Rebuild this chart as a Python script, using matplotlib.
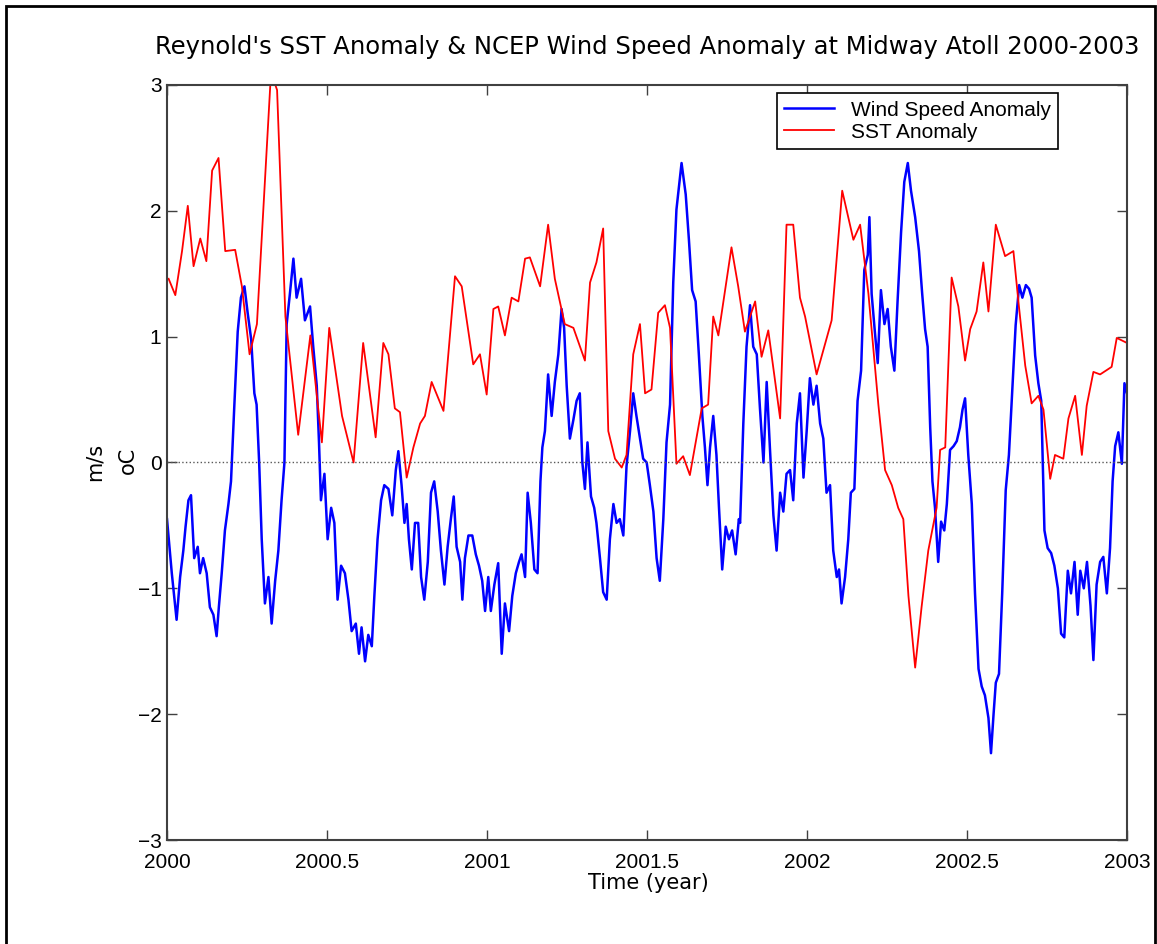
import matplotlib
matplotlib.use("Agg")
import matplotlib.pyplot as plt
from matplotlib.patches import Rectangle

# Reynolds SST anomaly (oC), weekly-ish samples
sst_year = [2000.005, 2000.026, 2000.047, 2000.065, 2000.083, 2000.104, 2000.123, 2000.141,
            2000.161, 2000.182, 2000.213, 2000.234, 2000.258, 2000.281, 2000.307, 2000.325,
            2000.344, 2000.370, 2000.410, 2000.448, 2000.484, 2000.507, 2000.547, 2000.583,
            2000.613, 2000.652, 2000.676, 2000.692, 2000.712, 2000.728, 2000.749, 2000.770,
            2000.791, 2000.806, 2000.827, 2000.864, 2000.900, 2000.921, 2000.957, 2000.978,
            2000.999, 2001.020, 2001.035, 2001.056, 2001.077, 2001.098, 2001.119, 2001.134,
            2001.166, 2001.191, 2001.212, 2001.243, 2001.270, 2001.306, 2001.322, 2001.342,
            2001.363, 2001.379, 2001.400, 2001.421, 2001.436, 2001.457, 2001.478, 2001.494,
            2001.514, 2001.535, 2001.556, 2001.572, 2001.592, 2001.613, 2001.634, 2001.671,
            2001.691, 2001.707, 2001.723, 2001.764, 2001.785, 2001.806, 2001.838, 2001.858,
            2001.879, 2001.916, 2001.936, 2001.957, 2001.978, 2001.994, 2002.030, 2002.077,
            2002.110, 2002.145, 2002.166, 2002.192, 2002.223, 2002.244, 2002.265, 2002.285,
            2002.301, 2002.317, 2002.338, 2002.358, 2002.379, 2002.405, 2002.416, 2002.432,
            2002.452, 2002.473, 2002.494, 2002.510, 2002.530, 2002.551, 2002.567, 2002.590,
            2002.619, 2002.645, 2002.661, 2002.682, 2002.702, 2002.723, 2002.739, 2002.760,
            2002.775, 2002.801, 2002.817, 2002.838, 2002.859, 2002.874, 2002.895, 2002.916,
            2002.952, 2002.968, 2003.000]
sst_val = [1.46, 1.33, 1.68, 2.04, 1.56, 1.78, 1.60, 2.32,
           2.42, 1.68, 1.69, 1.40, 0.86, 1.10, 2.29, 3.10,
           2.96, 1.16, 0.22, 1.01, 0.16, 1.07, 0.37, 0.00,
           0.95, 0.20, 0.95, 0.86, 0.43, 0.40, -0.12, 0.12,
           0.31, 0.37, 0.64, 0.41, 1.48, 1.40, 0.78, 0.86,
           0.54, 1.22, 1.24, 1.01, 1.31, 1.28, 1.62, 1.63,
           1.40, 1.89, 1.46, 1.10, 1.07, 0.81, 1.43, 1.59,
           1.86, 0.25, 0.03, -0.04, 0.06, 0.86, 1.10, 0.55,
           0.58, 1.19, 1.25, 1.07, -0.01, 0.05, -0.10, 0.43,
           0.46, 1.16, 1.01, 1.71, 1.40, 1.04, 1.28, 0.84,
           1.05, 0.35, 1.89, 1.89, 1.31, 1.16, 0.70, 1.13,
           2.16, 1.77, 1.89, 1.34, 0.46, -0.06, -0.18, -0.36,
           -0.45, -1.06, -1.63, -1.15, -0.70, -0.36, 0.10, 0.12,
           1.47, 1.24, 0.81, 1.06, 1.20, 1.59, 1.20, 1.89,
           1.64, 1.68, 1.27, 0.77, 0.47, 0.53, 0.42, -0.13,
           0.06, 0.03, 0.35, 0.53, 0.06, 0.45, 0.72, 0.70,
           0.76, 0.99, 0.95]

# NCEP wind speed anomaly (m/s)
wind_year = [2000.000, 2000.015, 2000.030, 2000.041, 2000.051, 2000.058, 2000.067, 2000.075,
             2000.085, 2000.096, 2000.103, 2000.113, 2000.124, 2000.134, 2000.145, 2000.155,
             2000.162, 2000.171, 2000.181, 2000.192, 2000.200, 2000.210, 2000.221, 2000.231,
             2000.242, 2000.252, 2000.263, 2000.273, 2000.280, 2000.288, 2000.296, 2000.306,
             2000.317, 2000.327, 2000.338, 2000.348, 2000.358, 2000.367, 2000.374, 2000.384,
             2000.395, 2000.405, 2000.419, 2000.431, 2000.447, 2000.457, 2000.468, 2000.475,
             2000.481, 2000.492, 2000.502, 2000.513, 2000.523, 2000.533, 2000.544, 2000.556,
             2000.567, 2000.577, 2000.590, 2000.600, 2000.608, 2000.619, 2000.629, 2000.640,
             2000.648, 2000.658, 2000.669, 2000.679, 2000.692, 2000.704, 2000.715, 2000.723,
             2000.733, 2000.742, 2000.749, 2000.756, 2000.765, 2000.775, 2000.785, 2000.794,
             2000.804, 2000.815, 2000.825, 2000.835, 2000.846, 2000.856, 2000.867, 2000.877,
             2000.887, 2000.896, 2000.905, 2000.916, 2000.923, 2000.931, 2000.942, 2000.954,
             2000.965, 2000.975, 2000.985, 2000.994, 2001.004, 2001.012, 2001.023, 2001.035,
             2001.046, 2001.056, 2001.069, 2001.079, 2001.090, 2001.100, 2001.108, 2001.119,
             2001.127, 2001.137, 2001.148, 2001.158, 2001.167, 2001.173, 2001.181, 2001.191,
             2001.202, 2001.212, 2001.223, 2001.233, 2001.241, 2001.249, 2001.259, 2001.270,
             2001.280, 2001.290, 2001.298, 2001.306, 2001.314, 2001.325, 2001.335, 2001.342,
             2001.353, 2001.363, 2001.374, 2001.384, 2001.395, 2001.405, 2001.415, 2001.426,
             2001.436, 2001.447, 2001.457, 2001.467, 2001.478, 2001.488, 2001.499, 2001.509,
             2001.520, 2001.530, 2001.540, 2001.551, 2001.561, 2001.572, 2001.582, 2001.592,
             2001.608, 2001.621, 2001.631, 2001.641, 2001.652, 2001.662, 2001.673, 2001.681,
             2001.689, 2001.697, 2001.707, 2001.717, 2001.725, 2001.735, 2001.746, 2001.756,
             2001.766, 2001.777, 2001.787, 2001.791, 2001.801, 2001.811, 2001.822, 2001.832,
             2001.843, 2001.853, 2001.864, 2001.874, 2001.884, 2001.895, 2001.905, 2001.916,
             2001.926, 2001.936, 2001.947, 2001.957, 2001.968, 2001.978, 2001.989, 2001.999,
             2002.009, 2002.020, 2002.030, 2002.041, 2002.051, 2002.061, 2002.072, 2002.082,
             2002.093, 2002.100, 2002.108, 2002.119, 2002.129, 2002.137, 2002.148, 2002.158,
             2002.169, 2002.179, 2002.190, 2002.195, 2002.202, 2002.212, 2002.221, 2002.231,
             2002.242, 2002.252, 2002.262, 2002.273, 2002.283, 2002.294, 2002.304, 2002.315,
             2002.325, 2002.338, 2002.350, 2002.360, 2002.369, 2002.377, 2002.385, 2002.392,
             2002.400, 2002.410, 2002.419, 2002.429, 2002.437, 2002.447, 2002.458, 2002.468,
             2002.478, 2002.486, 2002.494, 2002.504, 2002.515, 2002.525, 2002.536, 2002.546,
             2002.556, 2002.567, 2002.575, 2002.583, 2002.590, 2002.600, 2002.610, 2002.621,
             2002.631, 2002.642, 2002.652, 2002.663, 2002.673, 2002.684, 2002.694, 2002.702,
             2002.713, 2002.723, 2002.732, 2002.742, 2002.752, 2002.763, 2002.773, 2002.784,
             2002.794, 2002.804, 2002.815, 2002.825, 2002.836, 2002.846, 2002.854, 2002.865,
             2002.875, 2002.886, 2002.895, 2002.905, 2002.916, 2002.926, 2002.937, 2002.947,
             2002.955, 2002.963, 2002.973, 2002.984, 2002.992, 2003.000]
wind_val = [-0.45, -0.88, -1.25, -0.91, -0.70, -0.51, -0.30, -0.26,
            -0.76, -0.67, -0.88, -0.76, -0.88, -1.15, -1.21, -1.38,
            -1.15, -0.88, -0.54, -0.33, -0.15, 0.43, 1.04, 1.31,
            1.40, 1.19, 0.98, 0.55, 0.46, 0.00, -0.61, -1.12,
            -0.91, -1.28, -0.94, -0.70, -0.30, 0.00, 1.10, 1.34,
            1.62, 1.31, 1.46, 1.13, 1.24, 0.92, 0.61, 0.16,
            -0.30, -0.09, -0.61, -0.36, -0.48, -1.09, -0.82, -0.88,
            -1.09, -1.34, -1.28, -1.52, -1.31, -1.58, -1.37, -1.46,
            -1.06, -0.61, -0.30, -0.18, -0.21, -0.42, -0.06, 0.09,
            -0.18, -0.48, -0.33, -0.61, -0.85, -0.48, -0.48, -0.91,
            -1.09, -0.79, -0.24, -0.15, -0.39, -0.70, -0.97, -0.67,
            -0.45, -0.27, -0.67, -0.79, -1.09, -0.76, -0.58, -0.58,
            -0.73, -0.82, -0.94, -1.18, -0.91, -1.18, -0.97, -0.80,
            -1.52, -1.12, -1.34, -1.06, -0.88, -0.79, -0.73, -0.91,
            -0.24, -0.48, -0.85, -0.88, -0.15, 0.12, 0.25, 0.70,
            0.37, 0.64, 0.86, 1.22, 1.07, 0.61, 0.19, 0.34,
            0.49, 0.55, 0.00, -0.21, 0.16, -0.27, -0.36, -0.48,
            -0.76, -1.03, -1.09, -0.61, -0.33, -0.48, -0.45, -0.58,
            -0.03, 0.25, 0.55, 0.37, 0.19, 0.03, 0.00, -0.18,
            -0.39, -0.76, -0.94, -0.45, 0.16, 0.46, 1.43, 2.01,
            2.38, 2.13, 1.77, 1.37, 1.28, 0.86, 0.37, 0.12,
            -0.18, 0.12, 0.37, 0.06, -0.36, -0.85, -0.51, -0.61,
            -0.54, -0.73, -0.45, -0.48, 0.31, 0.92, 1.25, 0.92,
            0.86, 0.43, 0.00, 0.64, 0.12, -0.42, -0.70, -0.24,
            -0.39, -0.09, -0.06, -0.30, 0.31, 0.55, -0.12, 0.25,
            0.67, 0.46, 0.61, 0.31, 0.19, -0.24, -0.18, -0.70,
            -0.91, -0.85, -1.12, -0.91, -0.61, -0.24, -0.21, 0.49,
            0.73, 1.53, 1.65, 1.95, 1.34, 1.04, 0.79, 1.37,
            1.10, 1.22, 0.92, 0.73, 1.28, 1.83, 2.23, 2.38,
            2.16, 1.95, 1.68, 1.34, 1.06, 0.92, 0.28, -0.15,
            -0.36, -0.79, -0.47, -0.54, -0.33, 0.10, 0.13, 0.17,
            0.28, 0.42, 0.51, 0.06, -0.33, -1.04, -1.64, -1.78,
            -1.85, -2.03, -2.31, -2.00, -1.75, -1.68, -1.04, -0.22,
            0.06, 0.60, 1.09, 1.41, 1.31, 1.41, 1.38, 1.31,
            0.85, 0.63, 0.49, -0.54, -0.68, -0.72, -0.82, -1.00,
            -1.36, -1.39, -0.86, -1.04, -0.79, -1.21, -0.86, -1.00,
            -0.79, -1.14, -1.57, -0.97, -0.79, -0.75, -1.04, -0.68,
            -0.15, 0.13, 0.24, -0.01, 0.63, 0.55]

x_ticks = [2000, 2000.5, 2001, 2001.5, 2002, 2002.5, 2003]
x_labels = ["2000", "2000.5", "2001", "2001.5", "2002", "2002.5", "2003"]
y_ticks = [-3, -2, -1, 0, 1, 2, 3]

W, H = 1157, 944
fig = plt.figure(figsize=(W / 100, H / 100), dpi=100)
ax = fig.add_axes([167 / W, 104 / H, 960 / W, 755 / H])

ax.plot(wind_year, wind_val, color="#0000ff", lw=1.8, label="Wind Speed Anomaly")
ax.plot(sst_year, sst_val, color="#ff0000", lw=1.3, label="SST Anomaly")
ax.axhline(0, color="0.35", lw=1.0, ls=":")

ax.set_xlim(2000, 2003)
ax.set_ylim(-3, 3)
ax.set_xticks(x_ticks)
ax.set_xticklabels(x_labels)
ax.set_yticks(y_ticks)
ax.tick_params(direction="in", length=7, width=1, color="0.25",
               top=True, right=True, labelsize=15)
ax.tick_params(axis="x", pad=9)
ax.tick_params(axis="y", pad=4)
for lab in ax.get_xticklabels() + ax.get_yticklabels():
    lab.set_family("Liberation Sans")
for s in ax.spines.values():
    s.set_color("0.25")
    s.set_linewidth(1.5)

leg = ax.legend(loc="upper right", bbox_to_anchor=(0.928, 0.989), borderaxespad=0,
                fancybox=False, edgecolor="black", framealpha=1, handlelength=2.4,
                borderpad=0.35, labelspacing=0.15,
                prop={"family": "Liberation Sans", "size": 15})
leg.get_frame().set_linewidth(1.2)

fig.text(647 / W, 1 - 47 / H, "Reynold's SST Anomaly & NCEP Wind Speed Anomaly at Midway Atoll 2000-2003",
         ha="center", va="center", fontsize=17.5)
fig.text(648 / W, 1 - 883 / H, "Time (year)", ha="center", va="center", fontsize=15)
fig.text(95 / W, 1 - 462 / H, "m/s", rotation=90, ha="center", va="center", fontsize=15)
fig.text(128 / W, 1 - 460 / H, "oC", rotation=90, ha="center", va="center", fontsize=15)

# outer frame
fig.patches.append(Rectangle((6 / W, -0.01), (W - 8) / W, 1 - 6 / H + 0.01,
                             transform=fig.transFigure, fill=False,
                             edgecolor="black", lw=2))

fig.savefig("out.png", dpi=100)
